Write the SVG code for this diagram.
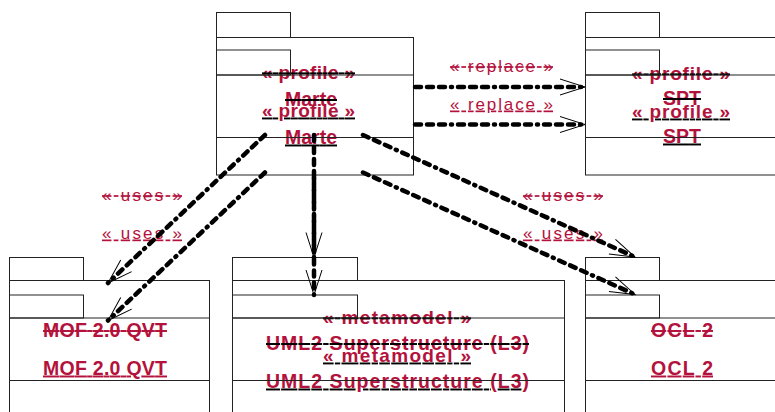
<svg xmlns="http://www.w3.org/2000/svg" width="775" height="412" viewBox="0 0 775 412">
<style>
text{font-family:"Liberation Sans",Arial,sans-serif;fill:#b3123c}
.st{font-size:19px;font-weight:bold}
.nm{font-size:19.5px;font-weight:bold}
.lb{font-size:17px}
.s{text-decoration:line-through}
.u{text-decoration:underline}
.box{fill:none;stroke:#222;stroke-width:1}
.dep{fill:none;stroke:#000;stroke-width:4.5;stroke-linecap:round;stroke-dasharray:6 6 6 6 6 6 1 6;marker-end:url(#open)}
</style>
<defs>
<marker id="open" markerUnits="userSpaceOnUse" viewBox="-27 -10 30 20" markerWidth="30" markerHeight="20" refX="0" refY="0" orient="auto" overflow="visible">
<path d="M-25,-8 L0,0 L-25,8" fill="none" stroke="#000" stroke-width="1"/>
</marker>
</defs>
<rect width="775" height="412" fill="#fff"/>

<g id="marte">
<g class="s">
<text class="st" x="262" y="79" textLength="93" lengthAdjust="spacing">« profile »</text>
<text class="nm" x="285" y="106" textLength="52" lengthAdjust="spacing">Marte</text>
</g>
<g class="u" transform="translate(0,37.5)">
<text class="st" x="262" y="79" textLength="93" lengthAdjust="spacing">« profile »</text>
<text class="nm" x="285" y="106" textLength="52" lengthAdjust="spacing">Marte</text>
</g>
<rect class="box" x="216.5" y="12.5" width="74" height="25"/>
<rect class="box" x="216.5" y="37.5" width="197" height="100"/>
<g transform="translate(0,37.5)">
<rect class="box" x="216.5" y="12.5" width="74" height="25"/>
<rect class="box" x="216.5" y="37.5" width="197" height="100"/>
</g>
</g>

<g id="spt">
<g class="s">
<text class="st" x="632" y="80" textLength="98" lengthAdjust="spacing">« profile »</text>
<text class="nm" x="663" y="105" textLength="38" lengthAdjust="spacing">SPT</text>
</g>
<g class="u" transform="translate(0,37.5)">
<text class="st" x="632" y="80" textLength="98" lengthAdjust="spacing">« profile »</text>
<text class="nm" x="663" y="105" textLength="38" lengthAdjust="spacing">SPT</text>
</g>
<rect class="box" x="585.5" y="12.5" width="74" height="25"/>
<rect class="box" x="585.5" y="37.5" width="197" height="100"/>
<g transform="translate(0,37.5)">
<rect class="box" x="585.5" y="12.5" width="74" height="25"/>
<rect class="box" x="585.5" y="37.5" width="197" height="100"/>
</g>
</g>

<g id="mof">
<text class="nm s" x="43" y="337" textLength="124" lengthAdjust="spacing">MOF 2.0 QVT</text>
<text class="nm u" x="43" y="374.5" textLength="124" lengthAdjust="spacing">MOF 2.0 QVT</text>
<rect class="box" x="9.5" y="257.5" width="74" height="23"/>
<rect class="box" x="9.5" y="280.5" width="200" height="100"/>
<g transform="translate(0,37.5)">
<rect class="box" x="9.5" y="257.5" width="74" height="23"/>
<rect class="box" x="9.5" y="280.5" width="200" height="100"/>
</g>
</g>

<g id="uml2">
<g class="s">
<text class="st" x="323" y="324" textLength="148" lengthAdjust="spacing">« metamodel »</text>
<text class="nm" x="266" y="350" textLength="263" lengthAdjust="spacing">UML2 Superstructure (L3)</text>
</g>
<g class="u" transform="translate(0,37.5)">
<text class="st" x="323" y="324" textLength="148" lengthAdjust="spacing">« metamodel »</text>
<text class="nm" x="266" y="350" textLength="263" lengthAdjust="spacing">UML2 Superstructure (L3)</text>
</g>
<rect class="box" x="232.5" y="257.5" width="125" height="23"/>
<rect class="box" x="232.5" y="280.5" width="332" height="100"/>
<g transform="translate(0,37.5)">
<rect class="box" x="232.5" y="257.5" width="125" height="23"/>
<rect class="box" x="232.5" y="280.5" width="332" height="100"/>
</g>
</g>

<g id="ocl">
<text class="nm s" x="651" y="337" textLength="62" lengthAdjust="spacing">OCL 2</text>
<text class="nm u" x="651" y="374.5" textLength="62" lengthAdjust="spacing">OCL 2</text>
<rect class="box" x="585.5" y="257.5" width="74" height="23"/>
<rect class="box" x="585.5" y="280.5" width="197" height="100"/>
<g transform="translate(0,37.5)">
<rect class="box" x="585.5" y="257.5" width="74" height="23"/>
<rect class="box" x="585.5" y="280.5" width="197" height="100"/>
</g>
</g>

<g id="connectors">
<text class="lb s" x="450" y="72" textLength="103" lengthAdjust="spacing">« replace »</text>
<text class="lb u" x="450" y="109.5" textLength="103" lengthAdjust="spacing">« replace »</text>
<text class="lb s" x="102" y="201" textLength="80" lengthAdjust="spacing">« uses »</text>
<text class="lb u" x="102" y="238.5" textLength="80" lengthAdjust="spacing">« uses »</text>
<text class="lb s" x="523" y="201" textLength="80" lengthAdjust="spacing">« uses »</text>
<text class="lb u" x="523" y="238.5" textLength="80" lengthAdjust="spacing">« uses »</text>
<path class="dep" d="M415,87 L585,87"/>
<path class="dep" d="M415,124.5 L585,124.5"/>
<path class="dep" d="M265,135 L108,283"/>
<path class="dep" d="M265,172.5 L108,320.5"/>
<path class="dep" d="M314,135 L314,257.5"/>
<path class="dep" d="M314,172.5 L314,295"/>
<path class="dep" d="M363,135 L635,257"/>
<path class="dep" d="M363,172.5 L635,294.5"/>
</g>
</svg>
